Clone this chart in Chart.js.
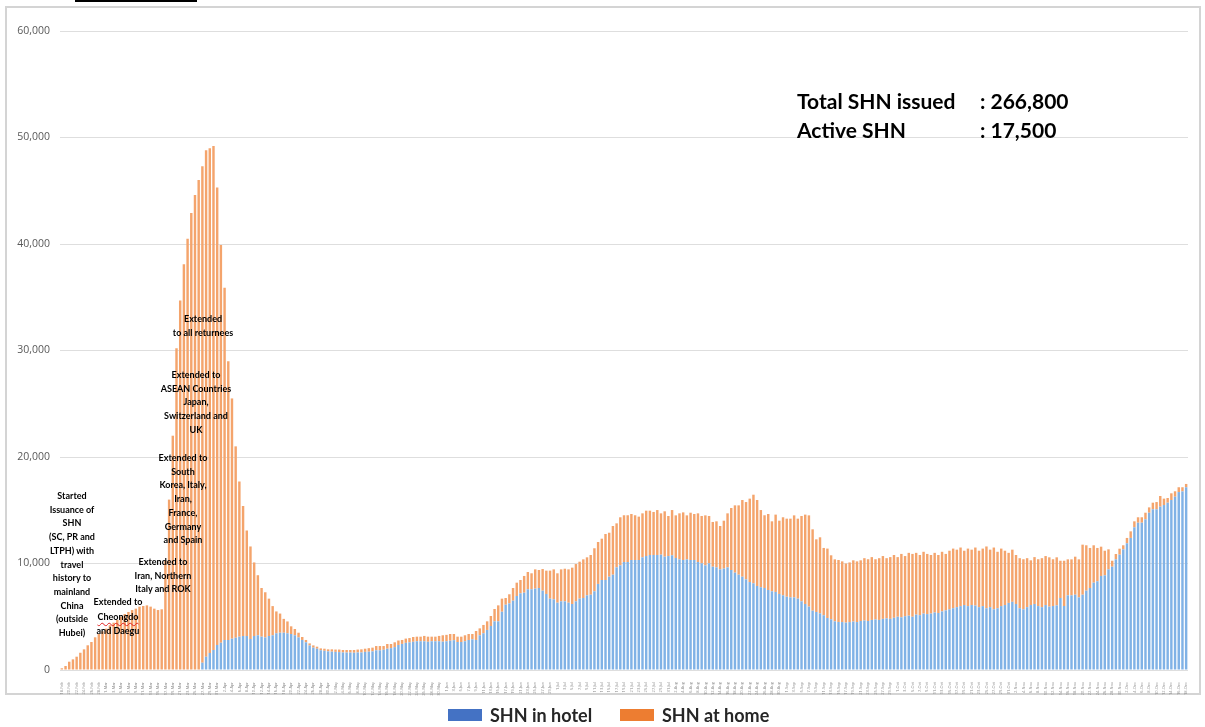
<!DOCTYPE html>
<html>
<head>
<meta charset="utf-8">
<script src="https://cdn.jsdelivr.net/npm/chart.js@4.4.1/dist/chart.umd.min.js"></script>
<style>
html,body{margin:0;padding:0;background:#fff;}
#wrap{position:relative;width:1205px;height:727px;overflow:hidden;font-family:Lato,"Open Sans",sans-serif;}
#frame{position:absolute;left:5px;top:6px;width:1192px;height:685px;border:2px solid #d4d4d4;box-sizing:content-box;}
#topline{position:absolute;left:75px;top:0;width:122px;height:2px;background:#000;}
canvas{position:absolute;left:0;top:0;}
.note{position:absolute;transform:translateX(-50%);text-align:center;font-weight:700;font-size:9px;line-height:13.7px;color:#000;white-space:nowrap;}
.wavy{text-decoration:underline wavy #e02020;text-underline-offset:2px;}
.sum{position:absolute;font-weight:700;font-size:21px;line-height:25px;color:#000;white-space:nowrap;}
.lg-box{position:absolute;width:34px;height:12px;top:709px;}
.lg-txt{position:absolute;top:704px;font-weight:700;font-size:18px;line-height:22px;color:#262626;white-space:nowrap;}
</style>
</head>
<body>
<div id="wrap">
  <div id="topline"></div>
  <div id="frame"></div>
  <canvas id="c" width="1205" height="727"></canvas>

  <div class="note" style="left:72px;top:489px;">Started<br>Issuance of<br>SHN<br>(SC, PR and<br>LTPH) with<br>travel<br>history to<br>mainland<br>China<br>(outside<br>Hubei)</div>
  <div class="note" style="left:118px;top:595px;line-height:14.5px;">Extended to<br><span class="wavy">Cheongdo</span><br>and Daegu</div>
  <div class="note" style="left:163px;top:555px;">Extended to<br>Iran, Northern<br>Italy and ROK</div>
  <div class="note" style="left:183px;top:451px;">Extended to<br>South<br>Korea, Italy,<br>Iran,<br>France,<br>Germany<br>and Spain</div>
  <div class="note" style="left:196px;top:368px;">Extended to<br>ASEAN Countries<br>Japan,<br>Switzerland and<br>UK</div>
  <div class="note" style="left:203px;top:312px;">Extended<br>to all returnees</div>

  <div class="sum" style="left:797px;top:88px;">Total SHN issued</div>
  <div class="sum" style="left:980px;top:88px;">: 266,800</div>
  <div class="sum" style="left:797px;top:117px;">Active SHN</div>
  <div class="sum" style="left:980px;top:117px;">: 17,500</div>

  <div class="lg-box" style="left:448px;background:#4472C4;"></div>
  <div class="lg-txt" style="left:490px;">SHN in hotel</div>
  <div class="lg-box" style="left:620px;background:#ED7D31;"></div>
  <div class="lg-txt" style="left:662px;">SHN at home</div>
</div>

<script>
// ---- category labels (daily, 18 Feb to 18 Dec) ----
const monthSpans = [["Feb",18,29],["Mar",1,31],["Apr",1,30],["May",1,31],["Jun",1,30],["Jul",1,31],["Aug",1,31],["Sep",1,30],["Oct",1,31],["Nov",1,30],["Dec",1,18]];
const categories = [];
monthSpans.forEach(([m,a,b]) => { for (let d = a; d <= b; d++) categories.push(d + "-" + m); });

// ---- total active SHN (hotel + home) ----
const totalShn = [
160,375,780,1000,1250,1620,1940,2320,2630,3070,
3380,3630,3880,4200,4440,4700,5000,5260,5450,5630,
5760,5950,6010,6070,5950,5760,5630,5700,10300,16000,
22000,30200,34700,38100,40500,42900,44600,46000,47300,48800,
49000,49200,45300,39900,35900,29000,25500,21000,17700,15400,
13100,11600,10100,8900,7700,7300,6700,6000,5500,5300,
4800,4560,4100,3850,3500,3100,2820,2500,2310,2190,
2030,2000,1940,1940,1920,1920,1880,1880,1880,1880,
1920,1940,2000,2050,2100,2250,2250,2250,2440,2440,
2600,2770,2820,2950,3000,3100,3130,3130,3200,3130,
3130,3130,3200,3260,3300,3380,3380,3130,3130,3260,
3380,3380,3660,3910,4230,4570,5070,5730,6070,6700,
6760,7110,7700,8200,8450,8830,9200,9080,9450,9390,
9480,9330,9330,9450,9080,9450,9510,9450,9610,9950,
10170,10390,10580,10800,11430,12020,12330,12770,12890,13520,
13770,14340,14530,14530,14650,14530,14400,14710,14960,14960,
14840,15020,14710,14900,14460,15020,14520,14710,14800,14520,
14770,14650,14710,14460,14520,14460,13900,13960,13520,14020,
14710,15210,15460,15460,15960,15770,16090,16460,15960,15020,
14530,14650,13960,14590,14020,14340,14210,14210,14520,14210,
14460,14590,14520,13210,12270,12460,11460,11400,10770,10390,
10330,10200,10000,10100,10300,10200,10300,10500,10400,10600,
10400,10500,10700,10500,10600,10800,10600,10900,10700,11000,
10900,11000,10800,11100,10900,10800,11000,10800,11100,10900,
11200,11400,11300,11500,11200,11400,11300,11500,11200,11400,
11600,11300,11500,11100,11400,11200,11000,11300,10800,10500,
10400,10500,10300,10600,10400,10500,10700,10580,10400,10580,
10260,10260,10390,10390,10640,10390,11770,11710,11460,11710,
11460,11580,11200,11330,10260,10890,11390,11710,12400,13020,
13960,14340,14340,14770,15270,15710,15770,16340,16090,16150,
16590,16780,17160,17160,17470
];

// ---- SHN in hotel ----
const hotel = [
0,0,0,0,0,0,0,0,0,0,
0,0,0,0,0,0,0,0,0,0,
0,0,0,0,0,0,0,0,0,0,
0,0,0,0,0,0,0,0,685,1250,
1600,1880,2350,2560,2820,2820,2940,3030,3130,3190,
3190,2910,3190,3260,3130,3060,3190,3260,3450,3500,
3500,3450,3380,3260,3060,2820,2600,2300,2100,2000,
1850,1800,1750,1720,1700,1680,1650,1640,1640,1620,
1650,1650,1700,1720,1750,1850,1850,1900,2000,2050,
2150,2350,2450,2550,2600,2650,2700,2700,2700,2650,
2700,2700,2700,2660,2700,2750,2800,2630,2630,2700,
2820,2880,2820,3260,3450,3760,4130,4570,4570,5470,
6130,6260,6510,6950,7200,7260,7580,7580,7640,7700,
7450,7140,6700,6640,6320,6450,6450,6320,6200,6450,
6700,6760,7010,7070,7390,8080,8450,8450,8760,8950,
9640,9830,10140,10140,10330,10330,10330,10580,10700,10800,
10800,10800,10830,10640,10700,10770,10520,10390,10330,10390,
10330,10330,10140,10020,9830,10020,9700,9640,9450,9520,
9640,9390,9140,8950,8760,8510,8260,8140,7890,7770,
7700,7510,7390,7330,7140,7010,6880,6820,6820,6700,
6450,6200,5950,5570,5450,5320,5140,4880,4760,4570,
4510,4500,4450,4500,4550,4500,4600,4650,4600,4700,
4750,4700,4800,4850,4800,4900,5000,4950,5050,5100,
5000,5200,5150,5300,5250,5300,5400,5350,5500,5600,
5700,5800,5900,6000,6100,6000,6100,6050,5900,6000,
5800,5900,5700,5800,6000,6100,6300,6400,6200,5800,
5700,5900,6100,6200,6000,5900,6100,5950,6010,6070,
6760,6010,7010,7010,7070,6820,7070,7450,7700,8200,
8330,8830,8890,9450,9700,10390,10830,11330,11900,12400,
13400,13830,13830,14150,14770,15090,15090,15340,15490,15710,
15960,16270,16710,16770,17160
];

const yTicks = [0,10000,20000,30000,40000,50000,60000];
const seriesNames = ["SHN in hotel", "SHN at home"];

// SHN at home = stacked remainder above hotel
const home = totalShn.map((t, i) => t - hotel[i]);

new Chart(document.getElementById("c"), {
  type: "bar",
  data: {
    labels: categories,
    datasets: [
      { label: seriesNames[0], data: hotel, backgroundColor: "#80b2e6", barPercentage: 0.66, categoryPercentage: 1 },
      { label: seriesNames[1], data: home, backgroundColor: "#f4a46c", barPercentage: 0.66, categoryPercentage: 1 }
    ]
  },
  options: {
    responsive: false,
    animation: false,
    devicePixelRatio: 1,
    layout: { padding: { left: 8, top: 31, right: 17, bottom: 0 } },
    plugins: { legend: { display: false }, tooltip: { enabled: false } },
    scales: {
      x: {
        stacked: true,
        grid: { display: false },
        border: { display: false },
        ticks: {
          autoSkip: false, maxRotation: 90, minRotation: 90, padding: 4,
          font: { size: 4, family: "Open Sans" }, color: "#8c8c8c",
          callback: (v, i) => (i % 2 === 0 ? categories[i] : "")
        },
        afterFit: (s) => { s.height = 57; }
      },
      y: {
        stacked: true,
        z: 1,
        min: yTicks[0], max: yTicks[yTicks.length - 1],
        afterBuildTicks: (s) => { s.ticks = yTicks.map(v => ({ value: v })); },
        grid: { color: "rgba(0,0,0,0.13)", drawTicks: false, lineWidth: 1 },
        border: { display: false },
        ticks: {
          padding: 10, color: "#595959",
          font: { size: 10.5, family: "Open Sans" },
          callback: (v) => Number(v).toLocaleString("en-US")
        },
        afterFit: (s) => { s.width = 52; }
      }
    }
  }
});
</script>
</body>
</html>
